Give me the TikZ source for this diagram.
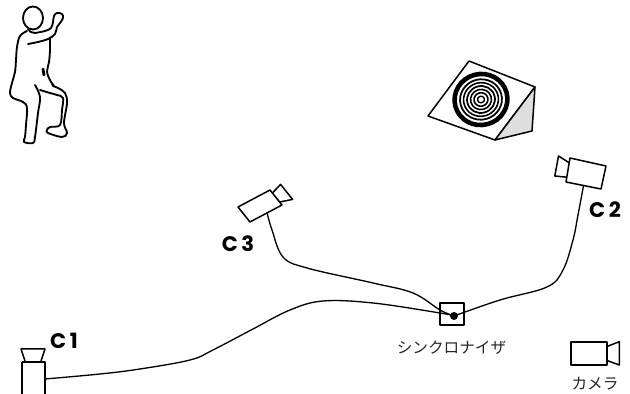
\documentclass[tikz,border=0pt]{standalone}
\usepackage{fontspec}
\newfontfamily\jpfont{Noto Sans CJK JP}
\newfontfamily\camlabelfont{Poppins}
\begin{document}
\begin{tikzpicture}[x=0.02cm,y=-0.02cm,
  line join=round,
  outline/.style={line width=0.85pt},
  figure/.style={line width=1.05pt, line cap=round},
  cable/.style={line width=0.75pt},
  camlabel/.style={font=\camlabelfont\bfseries\fontsize{12}{13}\selectfont, inner sep=0pt},
  jplabel/.style={font=\jpfont\fontsize{8.9}{10}\selectfont, text=black!85, inner sep=0pt}]
\useasboundingbox (0,0) rectangle (630,394);

% seated person
\draw[figure] (33,18) ellipse [x radius=10, y radius=11.5];
\draw[figure] (28,29) .. controls (30,32) .. (35,33);
\draw[figure] plot[smooth, tension=0.6] coordinates {(27,31) (20,36) (17,47) (16,60) (15,72) (12,83) (10,93) (13,98) (23,102) (27,108) (26,125) (25,137) (24,142) (33,143) (35,137) (38,113) (40,97) (35,85)};
\draw[figure] plot[smooth, tension=0.6] coordinates {(40,90) (50,93) (57,95) (63,98) (62,110) (60,125) (50,127) (47,130) (48,133) (62,137) (67,133) (64,123) (67,103) (65,93) (58,88) (53,86)};
\draw[figure] plot[smooth, tension=0.6] coordinates {(50,38) (50,50) (49,62) (47,72) (50,80) (53,85)};
\draw[figure] plot[smooth, tension=0.6] coordinates {(35,33) (45,31) (51,28) (53,22) (54,16) (57,13) (62,14) (63,18) (60,23) (57,27) (55,34) (48,39) (38,42) (28,44)};
\draw[line width=1.6pt, line cap=round] (43,69) -- (44,75);
\fill (53,85) circle [radius=1.6];

% inclined target
\draw[outline, fill=white] (469,61) -- (535,87) -- (495,140) -- (428,116) -- cycle;
\draw[outline, fill=gray!25] (535,87) -- (532,131) -- (495,140) -- cycle;
\begin{scope}[shift={(481,99.5)}, rotate=15]
  \draw[line width=2.6pt] (0,0) ellipse [x radius=26.5, y radius=25.5];
  \foreach \r/\w in {21/1.0pt, 17.5/0.9pt, 14/1.0pt, 10.5/0.9pt, 7/0.9pt, 3.5/0.8pt}
    \draw[line width=\w] (0,0) ellipse [x radius=\r, y radius=\r*0.96];
\end{scope}

% camera C1
\draw[outline] (22,362) -- (22,400) (45,400) -- (45,362) -- (22,362);
\draw[outline] (25,361) -- (21,349) -- (45,349) -- (41,361);
\coordinate (c1port) at (45,379);
\node[camlabel] (c1label) at (64,340.5) {C\kern2pt 1};

% camera C2
\draw[outline] (570,158) -- (606,166) -- (601,189) -- (566,182) -- cycle;
\draw[outline] (569.2,162.8) -- (558.5,156) -- (554.8,176) -- (566.8,177.2);
\coordinate (c2port) at (583.5,185.8);
\node[camlabel] (c2label) at (605,210) {C\kern2pt 2};

% camera C3
\draw[outline] (238,207) -- (270,190) -- (282,205) -- (250,222) -- cycle;
\draw[outline] (272.4,193) -- (280.6,184.4) -- (292.6,199.4) -- (279.6,202);
\coordinate (c3port) at (267,212.5);
\node[camlabel] (c3label) at (238,244) {C\kern2pt 3};

% synchronizer
\node[draw, outline, minimum width=0.48cm, minimum height=0.44cm, inner sep=0pt] (sync) at (452,314) {};
\coordinate (syncdot) at (454,316);
\node[jplabel] (synclabel) at (451.5,347.5) {シンクロナイザ};

% cables into the synchronizer
\draw[cable] plot[smooth, tension=0.6] coordinates {(c1port) (100,374) (140,369) (190,360) (213,350) (253,329) (290,310) (323,301) (373,303) (440,313) (syncdot)};
\draw[cable] plot[smooth, tension=0.6] coordinates {(c3port) (272,230) (283,257) (307,268) (373,283) (413,293) (440,310) (syncdot)};
\draw[cable] plot[smooth, tension=0.6] coordinates {(c2port) (578,215) (573,240) (563,270) (547,287) (500,300) (syncdot)};
\fill (syncdot) circle [radius=4];

% legend camera
\draw[outline] (571,342) rectangle (607,365);
\draw[outline] (607,346.5) -- (619.3,341.7) -- (619.3,365) -- (607,360.5);
\node[jplabel] (legendlabel) at (595,383.5) {カメラ};
\end{tikzpicture}
\end{document}
